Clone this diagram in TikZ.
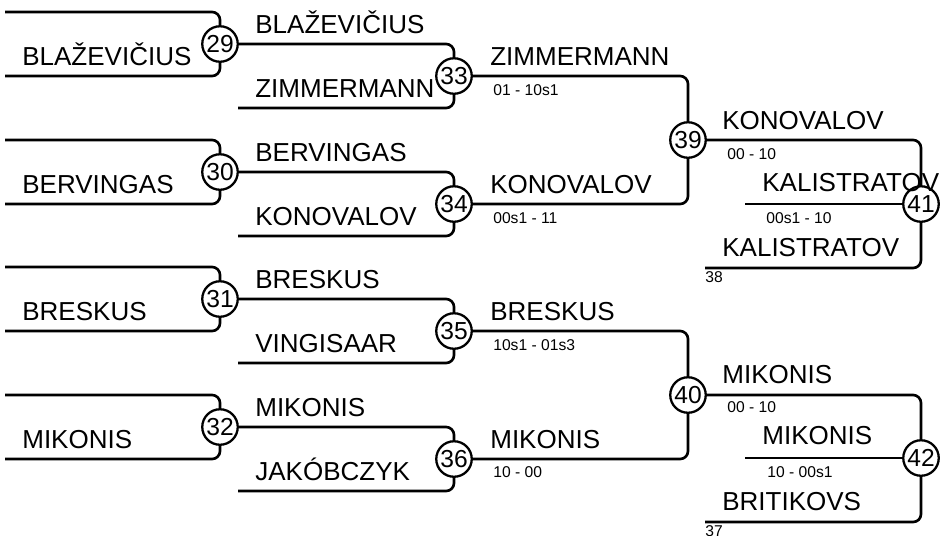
\documentclass[tikz,border=0pt]{standalone}
\usepackage{fontspec}
\setmainfont{Liberation Sans}
\usetikzlibrary{positioning}

\begin{document}
\begin{tikzpicture}[
x=0.02cm, y=-0.02cm,
partida/.style={
circle,
draw,
fill=white,
line width=1.3pt,
minimum size=0.71cm,
inner sep=0pt,
font=\fontsize{14}{15}\selectfont
},
atleta/.style={
anchor=base west,
inner sep=0pt,
font=\fontsize{14.8}{16}\selectfont
},
placar/.style={
anchor=base west,
inner sep=0pt,
font=\fontsize{8.9}{10}\selectfont
},
chave/.style={line width=1.5pt, rounded corners=4.5pt}
]
\useasboundingbox (0,0) rectangle (942,535);

% partidas
\node[partida] (m29) at (220,44) {29};
\node[partida] (m30) at (220,172) {30};
\node[partida] (m31) at (220,299) {31};
\node[partida] (m32) at (220,427) {32};
\node[partida] (m33) at (454,76) {33};
\node[partida] (m34) at (454,204) {34};
\node[partida] (m35) at (454,331) {35};
\node[partida] (m36) at (454,459) {36};
\node[partida] (m39) at (688,140) {39};
\node[partida] (m40) at (688,395) {40};
\node[partida] (m41) at (921,204) {41};
\node[partida] (m42) at (921,458) {42};

% pontas livres
\coordinate (e29a) at (5,12);
\coordinate (e29b) at (5,76);
\coordinate (e30a) at (5,140);
\coordinate (e30b) at (5,204);
\coordinate (e31a) at (5,267);
\coordinate (e31b) at (5,331);
\coordinate (e32a) at (5,395);
\coordinate (e32b) at (5,459);
\coordinate (e33b) at (238,108);
\coordinate (e34b) at (238,236);
\coordinate (e35b) at (238,363);
\coordinate (e36b) at (238,491);
\coordinate (e41b) at (705,268);
\coordinate (e41c) at (745,204);
\coordinate (e42b) at (705,522);
\coordinate (e42c) at (745,458);

\draw[chave] (e29a) -| (m29);
\draw[chave] (e29b) -| (m29);
\draw[chave] (e30a) -| (m30);
\draw[chave] (e30b) -| (m30);
\draw[chave] (e31a) -| (m31);
\draw[chave] (e31b) -| (m31);
\draw[chave] (e32a) -| (m32);
\draw[chave] (e32b) -| (m32);

\draw[chave] (m29) -| (m33);
\draw[chave] (e33b) -| (m33);
\draw[chave] (m30) -| (m34);
\draw[chave] (e34b) -| (m34);
\draw[chave] (m31) -| (m35);
\draw[chave] (e35b) -| (m35);
\draw[chave] (m32) -| (m36);
\draw[chave] (e36b) -| (m36);

\draw[chave] (m33) -| (m39);
\draw[chave] (m34) -| (m39);
\draw[chave] (m35) -| (m40);
\draw[chave] (m36) -| (m40);

\draw[chave] (m39) -| (m41);
\draw[chave] (e41b) -| (m41);
\draw[chave] (e41c) -- (m41);
\draw[chave] (m40) -| (m42);
\draw[chave] (e42b) -| (m42);
\draw[chave] (e42c) -- (m42);

% nomes
\node[atleta] (n29) at (22,65) {BLAŽEVIČIUS};
\node[atleta] (n30) at (22,193) {BERVINGAS};
\node[atleta] (n31) at (22,320) {BRESKUS};
\node[atleta] (n32) at (22,448) {MIKONIS};

\node[atleta] (n33a) at (255,33) {BLAŽEVIČIUS};
\node[atleta] (n33b) at (255,97) {ZIMMERMANN};
\node[atleta] (n34a) at (255,161) {BERVINGAS};
\node[atleta] (n34b) at (255,225) {KONOVALOV};
\node[atleta] (n35a) at (255,288) {BRESKUS};
\node[atleta] (n35b) at (255,352) {VINGISAAR};
\node[atleta] (n36a) at (255,416) {MIKONIS};
\node[atleta] (n36b) at (255,480) {JAKÓBCZYK};

\node[atleta] (n39a) at (490,65) {ZIMMERMANN};
\node[placar] (p39a) at (493,95) {01 - 10s1};
\node[atleta] (n39b) at (490,193) {KONOVALOV};
\node[placar] (p39b) at (493,223) {00s1 - 11};
\node[atleta] (n40a) at (490,320) {BRESKUS};
\node[placar] (p40a) at (493,350) {10s1 - 01s3};
\node[atleta] (n40b) at (490,448) {MIKONIS};
\node[placar] (p40b) at (493,477) {10 - 00};

\node[atleta] (n41a) at (722,129) {KONOVALOV};
\node[placar] (p41a) at (727,159) {00 - 10};
\node[atleta] (n41c) at (762,191) {KALISTRATOV};
\node[placar] (p41c) at (766,223) {00s1 - 10};
\node[atleta] (n41b) at (722,256) {KALISTRATOV};
\node[placar] (p41b) at (705,282) {38};

\node[atleta] (n42a) at (722,383) {MIKONIS};
\node[placar] (p42a) at (727,412) {00 - 10};
\node[atleta] (n42c) at (762,444) {MIKONIS};
\node[placar] (p42c) at (767,477) {10 - 00s1};
\node[atleta] (n42b) at (722,510) {BRITIKOVS};
\node[placar] (p42b) at (705,536) {37};

\end{tikzpicture}
\end{document}
